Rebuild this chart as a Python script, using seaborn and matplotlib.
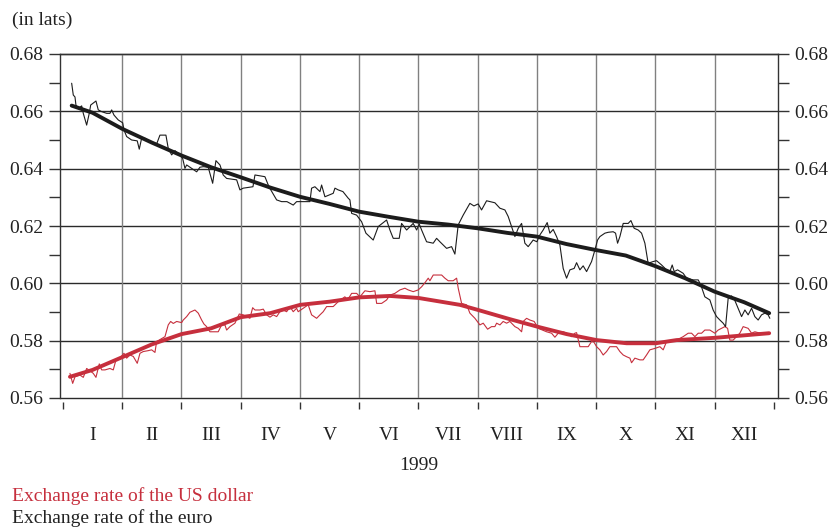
import numpy as np
import pandas as pd
import matplotlib
matplotlib.use("Agg")
import matplotlib.pyplot as plt
import seaborn as sns

# time axis: fractional month position (0 = 1 Jan, 12 = 31 Dec 1999)
months = ["I", "II", "III", "IV", "V", "VI", "VII", "VIII", "IX", "X", "XI", "XII"]
year_label = "1999"
y_ticks = [0.56, 0.58, 0.60, 0.62, 0.64, 0.66, 0.68]

eur_t = [0.147, 0.174, 0.203, 0.219, 0.258, 0.316, 0.343, 0.400, 0.444, 0.468, 0.557, 0.596, 0.653, 0.738, 0.793,
         0.822, 0.861, 0.933, 1.008, 1.030, 1.075, 1.159, 1.254, 1.288, 1.328, 1.384, 1.468, 1.581, 1.637, 1.738,
         1.777, 1.835, 1.890, 1.975, 2.020, 2.059, 2.088, 2.172, 2.257, 2.312, 2.368, 2.452, 2.527, 2.582, 2.650,
         2.705, 2.763, 2.932, 2.987, 3.043, 3.207, 3.241, 3.409, 3.477, 3.607, 3.691, 3.781, 3.887, 3.944, 4.169,
         4.197, 4.253, 4.338, 4.366, 4.422, 4.562, 4.591, 4.646, 4.726, 4.815, 4.844, 4.873, 4.957, 5.041, 5.114,
         5.237, 5.322, 5.463, 5.519, 5.575, 5.676, 5.716, 5.801, 5.912, 5.970, 6.014, 6.054, 6.138, 6.250, 6.307,
         6.363, 6.418, 6.476, 6.560, 6.616, 6.672, 6.756, 6.869, 6.937, 7.009, 7.066, 7.151, 7.291, 7.376, 7.460,
         7.516, 7.573, 7.629, 7.685, 7.742, 7.797, 7.853, 7.937, 8.000, 8.051, 8.106, 8.174, 8.219, 8.275, 8.332,
         8.388, 8.444, 8.501, 8.557, 8.629, 8.670, 8.726, 8.781, 8.839, 8.923, 8.979, 9.024, 9.063, 9.148, 9.203,
         9.288, 9.328, 9.362, 9.401, 9.457, 9.541, 9.587, 9.642, 9.710, 9.767, 9.823, 9.878, 9.963, 10.020, 10.105,
         10.189, 10.245, 10.284, 10.318, 10.375, 10.469, 10.527, 10.638, 10.723, 10.768, 10.835, 10.920, 10.975,
         11.033, 11.089, 11.144, 11.185, 11.229, 11.286, 11.342, 11.397, 11.455, 11.511, 11.566, 11.624, 11.679,
         11.735, 11.792, 11.848, 11.904, 11.932]
eur_v = [0.6698, 0.6657, 0.6650, 0.6622, 0.6610, 0.6619, 0.6593, 0.6552, 0.6593, 0.6622, 0.6636, 0.6605, 0.6599,
         0.6593, 0.6593, 0.6605, 0.6587, 0.6570, 0.6560, 0.6535, 0.6512, 0.6500, 0.6497, 0.6468, 0.6506, 0.6506,
         0.6494, 0.6486, 0.6517, 0.6517, 0.6471, 0.6448, 0.6463, 0.6448, 0.6436, 0.6401, 0.6413, 0.6401, 0.6389,
         0.6405, 0.6407, 0.6405, 0.6349, 0.6428, 0.6413, 0.6378, 0.6366, 0.6361, 0.6326, 0.6332, 0.6337, 0.6378,
         0.6372, 0.6337, 0.6291, 0.6285, 0.6285, 0.6273, 0.6285, 0.6285, 0.6332, 0.6337, 0.6320, 0.6343, 0.6302,
         0.6314, 0.6332, 0.6326, 0.6320, 0.6297, 0.6291, 0.6244, 0.6238, 0.6215, 0.6175, 0.6151, 0.6198, 0.6221,
         0.6186, 0.6157, 0.6157, 0.6209, 0.6186, 0.6209, 0.6186, 0.6207, 0.6186, 0.6145, 0.6140, 0.6157, 0.6145,
         0.6134, 0.6122, 0.6128, 0.6102, 0.6204, 0.6238, 0.6279, 0.6270, 0.6277, 0.6256, 0.6288, 0.6281, 0.6262,
         0.6256, 0.6233, 0.6198, 0.6163, 0.6192, 0.6209, 0.6140, 0.6128, 0.6151, 0.6145, 0.6169, 0.6186, 0.6212,
         0.6175, 0.6188, 0.6163, 0.6134, 0.6052, 0.6018, 0.6047, 0.6052, 0.6072, 0.6047, 0.6061, 0.6041, 0.6076,
         0.6116, 0.6151, 0.6163, 0.6175, 0.6178, 0.6180, 0.6175, 0.6140, 0.6163, 0.6209, 0.6209, 0.6219, 0.6192,
         0.6186, 0.6175, 0.6140, 0.6070, 0.6076, 0.6079, 0.6064, 0.6047, 0.6041, 0.6064, 0.6041, 0.6047, 0.6035,
         0.6018, 0.6012, 0.6012, 0.5994, 0.5953, 0.5942, 0.5907, 0.5884, 0.5872, 0.5861, 0.5849, 0.5948, 0.5956,
         0.5940, 0.5913, 0.5884, 0.5907, 0.5890, 0.5913, 0.5884, 0.5872, 0.5890, 0.5896, 0.5890, 0.5878]

usd_t = [0.118, 0.164, 0.203, 0.287, 0.343, 0.400, 0.456, 0.511, 0.557, 0.613, 0.653, 0.709, 0.793, 0.849, 0.895,
         0.962, 1.030, 1.075, 1.131, 1.187, 1.254, 1.300, 1.355, 1.435, 1.497, 1.553, 1.581, 1.722, 1.777, 1.818,
         1.862, 1.919, 2.003, 2.030, 2.088, 2.143, 2.228, 2.284, 2.341, 2.380, 2.425, 2.481, 2.621, 2.678, 2.734,
         2.763, 2.819, 2.903, 2.976, 3.043, 3.100, 3.156, 3.202, 3.241, 3.325, 3.381, 3.438, 3.494, 3.549, 3.607,
         3.662, 3.718, 3.776, 3.831, 3.887, 3.944, 3.971, 4.056, 4.140, 4.197, 4.282, 4.338, 4.393, 4.451, 4.562,
         4.646, 4.759, 4.805, 4.873, 4.957, 5.013, 5.097, 5.181, 5.266, 5.295, 5.379, 5.463, 5.519, 5.603, 5.688,
         5.772, 5.828, 5.912, 5.997, 6.054, 6.110, 6.166, 6.194, 6.250, 6.392, 6.447, 6.503, 6.587, 6.645, 6.672,
         6.729, 6.814, 6.869, 6.954, 7.038, 7.094, 7.168, 7.235, 7.291, 7.320, 7.376, 7.431, 7.489, 7.544, 7.629,
         7.685, 7.742, 7.769, 7.826, 7.882, 7.954, 8.023, 8.164, 8.248, 8.304, 8.360, 8.444, 8.506, 8.586, 8.641,
         8.670, 8.726, 8.866, 8.923, 8.962, 9.008, 9.063, 9.119, 9.176, 9.232, 9.345, 9.401, 9.457, 9.514, 9.570,
         9.598, 9.654, 9.738, 9.794, 9.851, 9.907, 9.992, 10.076, 10.132, 10.189, 10.245, 10.301, 10.358, 10.414,
         10.469, 10.554, 10.611, 10.667, 10.723, 10.780, 10.835, 10.920, 11.004, 11.060, 11.117, 11.173, 11.219,
         11.257, 11.313, 11.370, 11.426, 11.482, 11.566, 11.624, 11.679, 11.735, 11.792, 11.876, 11.932]
usd_v = [0.5686, 0.5651, 0.5674, 0.5680, 0.5672, 0.5703, 0.5695, 0.5686, 0.5672, 0.5719, 0.5698, 0.5698, 0.5703,
         0.5698, 0.5733, 0.5739, 0.5756, 0.5739, 0.5750, 0.5745, 0.5721, 0.5756, 0.5762, 0.5765, 0.5768, 0.5759,
         0.5797, 0.5814, 0.5855, 0.5867, 0.5860, 0.5867, 0.5863, 0.5872, 0.5884, 0.5899, 0.5907, 0.5896, 0.5872,
         0.5858, 0.5849, 0.5831, 0.5831, 0.5855, 0.5855, 0.5837, 0.5849, 0.5861, 0.5893, 0.5890, 0.5884, 0.5878,
         0.5915, 0.5907, 0.5907, 0.5910, 0.5890, 0.5882, 0.5890, 0.5884, 0.5901, 0.5907, 0.5901, 0.5919, 0.5901,
         0.5913, 0.5901, 0.5913, 0.5925, 0.5890, 0.5878, 0.5890, 0.5901, 0.5919, 0.5919, 0.5936, 0.5953, 0.5942,
         0.5965, 0.5965, 0.5953, 0.5974, 0.5971, 0.5974, 0.5930, 0.5930, 0.5942, 0.5959, 0.5965, 0.5977, 0.5983,
         0.5977, 0.5971, 0.5977, 0.5988, 0.6002, 0.6018, 0.6009, 0.6029, 0.6029, 0.6018, 0.6009, 0.6009, 0.6018,
         0.5983, 0.5930, 0.5925, 0.5896, 0.5878, 0.5855, 0.5861, 0.5840, 0.5849, 0.5849, 0.5861, 0.5855, 0.5867,
         0.5861, 0.5867, 0.5849, 0.5843, 0.5831, 0.5867, 0.5878, 0.5872, 0.5867, 0.5843, 0.5831, 0.5826, 0.5812,
         0.5826, 0.5831, 0.5826, 0.5814, 0.5826, 0.5828, 0.5779, 0.5779, 0.5797, 0.5795, 0.5779, 0.5768, 0.5750,
         0.5762, 0.5779, 0.5779, 0.5762, 0.5750, 0.5744, 0.5739, 0.5723, 0.5739, 0.5733, 0.5733, 0.5750, 0.5768,
         0.5773, 0.5779, 0.5768, 0.5797, 0.5797, 0.5802, 0.5802, 0.5808, 0.5814, 0.5826, 0.5826, 0.5814, 0.5826,
         0.5826, 0.5837, 0.5837, 0.5826, 0.5837, 0.5843, 0.5849, 0.5843, 0.5802, 0.5802, 0.5814, 0.5826, 0.5849,
         0.5843, 0.5826, 0.5831, 0.5828, 0.5826, 0.5826, 0.5826]

eur_trend_t = [0.147, 0.5, 1.0, 1.5, 2.0, 2.5, 3.0, 3.5, 4.0, 4.5, 5.0, 5.5, 6.0, 6.5, 7.0, 7.5, 8.0, 8.5,
               9.0, 9.5, 10.0, 10.5, 11.0, 11.5, 11.921]
eur_trend_v = [0.6620, 0.6595, 0.6539, 0.6491, 0.6446, 0.6405, 0.6370, 0.6334, 0.6302, 0.6277, 0.6250, 0.6232,
               0.6215, 0.6205, 0.6192, 0.6176, 0.6163, 0.6137, 0.6116, 0.6097, 0.6060, 0.6018, 0.5971, 0.5934,
               0.5896]

usd_trend_t = [0.118, 0.5, 1.018, 1.5, 2.003, 2.5, 3.004, 3.5, 4.005, 4.5, 5.001, 5.519, 6.0, 6.7, 7.009, 7.544,
               8.005, 8.501, 9.008, 9.514, 10.008, 10.358, 11.009, 11.921]
usd_trend_v = [0.5674, 0.5698, 0.5744, 0.5787, 0.5823, 0.5843, 0.5882, 0.5896, 0.5925, 0.5936, 0.5951, 0.5956,
               0.5949, 0.5925, 0.5907, 0.5875, 0.5849, 0.5823, 0.5802, 0.5791, 0.5791, 0.5802, 0.5810, 0.5826]

RED = "#c62f3d"
BLACK = "#1c1c1c"

sns.set_style("white")
plt.rcParams["font.family"] = ["Liberation Serif", "DejaVu Serif"]
plt.rcParams["font.size"] = 14

fig = plt.figure(figsize=(8.29, 5.28), dpi=100)
ax = fig.add_axes([60 / 829, 1 - 398 / 528, 718 / 829, 344 / 528])

eur = pd.DataFrame({"t": eur_t, "v": eur_v})
usd = pd.DataFrame({"t": usd_t, "v": usd_v})
eur_tr = pd.DataFrame({"t": eur_trend_t, "v": eur_trend_v})
usd_tr = pd.DataFrame({"t": usd_trend_t, "v": usd_trend_v})

sns.lineplot(data=usd, x="t", y="v", ax=ax, color=RED, linewidth=0.8, estimator=None, zorder=3)
sns.lineplot(data=eur, x="t", y="v", ax=ax, color=BLACK, linewidth=0.8, estimator=None, zorder=3)
sns.lineplot(data=usd_tr, x="t", y="v", ax=ax, color=RED, linewidth=2.8, estimator=None, zorder=4,
             solid_capstyle="round")
sns.lineplot(data=eur_tr, x="t", y="v", ax=ax, color=BLACK, linewidth=2.8, estimator=None, zorder=4,
             solid_capstyle="round")

ax.set_xlim(-0.05, 12.07)
ax.set_ylim(0.56, 0.68)
ax.set_xlabel("")
ax.set_ylabel("")

# grid: horizontal dark, vertical grey
for yv in y_ticks:
    ax.axhline(yv, color="#2a2a2a", linewidth=1.0, zorder=1, clip_on=False)
for m in range(1, 12):
    ax.axvline(m, color="#808080", linewidth=1.0, zorder=1)

# y axes (both sides)
ax.set_yticks(y_ticks)
ax.set_yticks([0.57, 0.59, 0.61, 0.63, 0.65, 0.67], minor=True)
ax.yaxis.set_major_formatter(matplotlib.ticker.FormatStrFormatter("%.2f"))
ax.tick_params(axis="y", which="both", direction="out", length=8, width=1.0, color="#333333",
               left=True, right=True, labelleft=True, labelright=True, pad=4, labelcolor="#222222")

# x axis: month boundary ticks and month names between them
ax.set_xticks(range(0, 13))
ax.set_xticklabels([""] * 13)
ax.set_xticks([m + 0.5 for m in range(12)], minor=True)
ax.set_xticklabels(months, minor=True)
ax.tick_params(axis="x", which="major", direction="out", length=5, width=1.0, color="#333333", bottom=True)
ax.tick_params(axis="x", which="minor", length=0, pad=18, labelcolor="#222222")

for side in ["left", "right", "top"]:
    ax.spines[side].set_visible(True)
    ax.spines[side].set_color("#333333")
    ax.spines[side].set_linewidth(1.0)
ax.spines["bottom"].set_visible(False)
ax.spines["bottom"].set_position(("outward", 3))

fig.text(419 / 829, 1 - 465 / 528, year_label, ha="center", va="center", color="#222222")
fig.text(12 / 829, 1 - 20 / 528, "(in lats)", ha="left", va="center", color="#222222")
fig.text(12 / 829, 1 - 496 / 528, "Exchange rate of the US dollar", ha="left", va="center", color=RED)
fig.text(12 / 829, 1 - 518 / 528, "Exchange rate of the euro", ha="left", va="center", color="#222222")

fig.savefig("out.png", dpi=100)
